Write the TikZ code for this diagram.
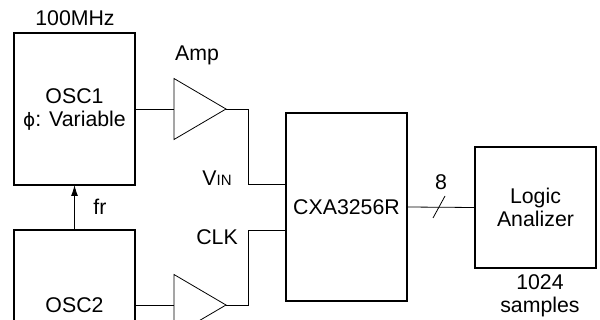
\documentclass[tikz,border=0pt]{standalone}
\usepackage{fontspec}
\setmainfont{Liberation Sans}
\newfontfamily\dejavu{DejaVu Sans}
\usetikzlibrary{shapes.geometric,arrows.meta}
\begin{document}
\begin{tikzpicture}[x=1pt,y=-1pt,
  font=\fontsize{21.3}{23}\selectfont,
  blk/.style={draw,line width=1.6pt,rectangle,inner sep=0pt,outer sep=0pt,align=center},
  amp/.style={draw,line width=0.8pt,isosceles triangle,isosceles triangle stretches,
     minimum width=61pt,minimum height=52pt,inner sep=0pt,outer sep=0pt,anchor=lower side},
  wire/.style={line width=0.8pt},
  lbl/.style={inner sep=0pt}]
\useasboundingbox (0,0) rectangle (600,320);
\clip (0,0) rectangle (600,320);
\node[blk,minimum width=121pt,minimum height=152pt] (osc1) at (74.5,109) {OSC1\\{\dejavu\fontsize{18.5}{23}\selectfont ϕ}: Variable};
\node[blk,minimum width=121pt,minimum height=120pt,text depth=0pt] (osc2) at (74.5,290) {};
\node[lbl] (osc2t) at (74.5,305) {OSC2};
\node[amp] (amp1) at (174,109) {};
\node[amp] (amp2) at (174,305) {};
\node[blk,minimum width=121pt,minimum height=188pt] (cxa) at (346.5,207) {CXA3256R};
\node[blk,minimum width=121pt,minimum height=121pt] (logic) at (535.5,207.5) {Logic\\Analizer};
\node[lbl] (f100) at (75,18) {100MHz};
\node[lbl] (amplbl) at (197,55) {Amp};
\node[lbl] (vinlbl) at (217,178) {V{\fontsize{15}{16}\selectfont IN}};
\node[lbl] (clklbl) at (217,237) {CLK};
\node[lbl] (frlbl) at (100,207) {fr};
\node[lbl] (eight) at (441,182) {8};
\node[lbl,align=center] (samp) at (540,296) {1024\\samples};
\coordinate (vin) at (cxa.west |- 0,184);
\coordinate (clkin) at (cxa.west |- 0,230);
\draw[wire] (osc1.east |- amp1.lower side) -- (amp1.lower side);
\draw[wire] (osc2.east |- amp2.lower side) -- (amp2.lower side);
\draw[wire] (amp1.apex) -- ++(22,0) |- (vin);
\draw[wire] (amp2.apex) -- ++(22,0) |- (clkin);
\draw[wire] (cxa.east) -- (logic.west);
\coordinate (s1) at (433,218);
\coordinate (s2) at (445,196);
\draw[wire] (s1) -- (s2);
\draw[wire,-{Latex[length=11pt,width=7pt]}] (osc2.north) -- (osc1.south);
\end{tikzpicture}
\end{document}
